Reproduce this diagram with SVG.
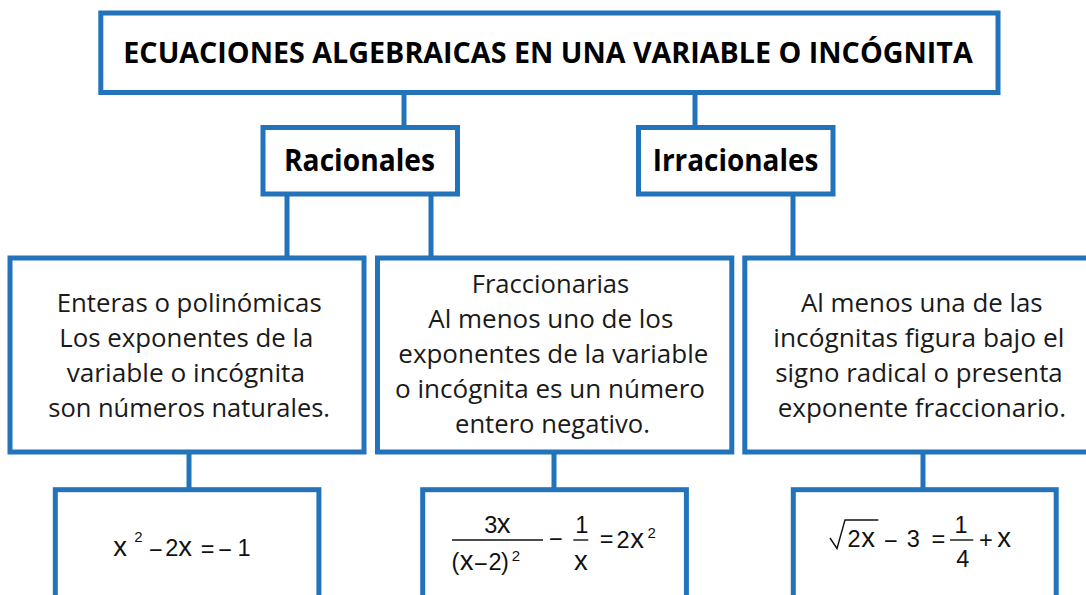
<svg xmlns="http://www.w3.org/2000/svg" width="1086" height="595" viewBox="0 0 1086 595">
<style>
.box{fill:#ffffff;stroke:#2373ba;stroke-width:5}
.con{stroke:#2373ba;stroke-width:5;fill:none}
.h{font-family:"Open Sans","Noto Sans","Liberation Sans",sans-serif;font-weight:bold;fill:#000}
.t{font-family:"Open Sans","Noto Sans","Liberation Sans",sans-serif;font-size:25.5px;fill:#1a1a1a}
.m{font-family:"Liberation Sans",Arial,sans-serif;font-size:23.5px;fill:#111111;text-anchor:middle}
.mx{font-size:27.5px}
.ms{font-size:15px}
.bar{stroke:#111111;stroke-width:1.4;fill:none}
</style>
<rect width="1086" height="595" fill="#ffffff"/>
<g id="connectors">
<line class="con" x1="404" y1="92" x2="404" y2="128"/>
<line class="con" x1="695" y1="92" x2="695" y2="128"/>
<line class="con" x1="287" y1="194" x2="287" y2="258"/>
<line class="con" x1="431" y1="194" x2="431" y2="258"/>
<line class="con" x1="793" y1="194" x2="793" y2="258"/>
<line class="con" x1="189" y1="452" x2="189" y2="490"/>
<line class="con" x1="554" y1="452" x2="554" y2="490"/>
<line class="con" x1="923" y1="452" x2="923" y2="490"/>
</g>
<g id="title">
<rect class="box" x="100.8" y="13" width="897.2" height="79.5"/>
<text class="h" x="123.3" y="63.3" font-size="28.5" textLength="849.4" lengthAdjust="spacingAndGlyphs">ECUACIONES ALGEBRAICAS EN UNA VARIABLE O INCÓGNITA</text>
</g>
<g id="racionales">
<rect class="box" x="263" y="127.5" width="194.5" height="66.5"/>
<text class="h" x="284" y="170.7" font-size="30" textLength="151" lengthAdjust="spacingAndGlyphs">Racionales</text>
</g>
<g id="irracionales">
<rect class="box" x="638.5" y="127.5" width="194.5" height="66.5"/>
<text class="h" x="652.7" y="170.7" font-size="30" textLength="165.6" lengthAdjust="spacingAndGlyphs">Irracionales</text>
</g>
<g id="enteras">
<rect class="box" x="10" y="258" width="354" height="194"/>
<text class="t" x="56.7" y="311.7" textLength="265" lengthAdjust="spacingAndGlyphs">Enteras o polinómicas</text>
<text class="t" x="59.3" y="346.7" textLength="254" lengthAdjust="spacingAndGlyphs">Los exponentes de la</text>
<text class="t" x="66.7" y="381.7" textLength="238.3" lengthAdjust="spacingAndGlyphs">variable o incógnita</text>
<text class="t" x="48.3" y="416.7" textLength="281.7" lengthAdjust="spacingAndGlyphs">son números naturales.</text>
</g>
<g id="fraccionarias">
<rect class="box" x="377.5" y="258" width="354.3" height="194"/>
<text class="t" x="471.7" y="292.7" textLength="157.6" lengthAdjust="spacingAndGlyphs">Fraccionarias</text>
<text class="t" x="428.3" y="328.3" textLength="245" lengthAdjust="spacingAndGlyphs">Al menos uno de los</text>
<text class="t" x="398.3" y="363.3" textLength="310" lengthAdjust="spacingAndGlyphs">exponentes de la variable</text>
<text class="t" x="395" y="398.3" textLength="310" lengthAdjust="spacingAndGlyphs">o incógnita es un número</text>
<text class="t" x="455" y="433.3" textLength="195" lengthAdjust="spacingAndGlyphs">entero negativo.</text>
</g>
<g id="radical-desc">
<rect class="box" x="744.8" y="258" width="360" height="194"/>
<text class="t" x="801" y="311.7" textLength="241.7" lengthAdjust="spacingAndGlyphs">Al menos una de las</text>
<text class="t" x="773.3" y="346.7" textLength="291" lengthAdjust="spacingAndGlyphs">incógnitas figura bajo el</text>
<text class="t" x="775.3" y="381.7" textLength="287.4" lengthAdjust="spacingAndGlyphs">signo radical o presenta</text>
<text class="t" x="777.7" y="416.7" textLength="288.3" lengthAdjust="spacingAndGlyphs">exponente fraccionario.</text>
</g>
<g id="ejemplo-entera">
<rect class="box" x="55.3" y="489.7" width="263.6" height="130"/>
<text class="m mx" x="120" y="556">x</text>
<text class="m ms" x="138.3" y="541.7">2</text>
<text class="m" x="155.8" y="558">−</text>
<text class="m" x="171.7" y="556">2</text>
<text class="m mx" x="185" y="556">x</text>
<text class="m" x="207.5" y="557">=</text>
<text class="m" x="225" y="558">−</text>
<text class="m" x="244" y="556">1</text>
</g>
<g id="ejemplo-fraccionaria">
<rect class="box" x="422.7" y="489.7" width="263.7" height="130"/>
<text class="m" x="490.7" y="533.3">3</text>
<text class="m mx" x="503.5" y="533.3">x</text>
<line class="bar" x1="452" y1="540" x2="543" y2="540"/>
<text class="m" x="455.5" y="570">(</text>
<text class="m mx" x="466.7" y="570">x</text>
<text class="m" x="480.8" y="572">−</text>
<text class="m" x="495" y="570">2</text>
<text class="m" x="505" y="570">)</text>
<text class="m ms" x="515.8" y="561">2</text>
<text class="m" x="555.8" y="546.5">−</text>
<text class="m" x="581.7" y="533.3">1</text>
<line class="bar" x1="573.3" y1="540" x2="588.3" y2="540"/>
<text class="m mx" x="580.8" y="570">x</text>
<text class="m" x="606.7" y="546.5">=</text>
<text class="m" x="623" y="547.5">2</text>
<text class="m mx" x="637" y="547.5">x</text>
<text class="m ms" x="651.7" y="538.3">2</text>
</g>
<g id="ejemplo-irracional">
<rect class="box" x="793.3" y="489.7" width="262.9" height="130"/>
<polyline class="bar" points="830,538 837,548.5 845,520 878.3,520"/>
<text class="m" x="854" y="546.7">2</text>
<text class="m mx" x="868" y="546.7">x</text>
<text class="m" x="890.8" y="548.5">−</text>
<text class="m" x="913.3" y="546.7">3</text>
<text class="m" x="938.3" y="546.5">=</text>
<text class="m" x="961" y="533.3">1</text>
<line class="bar" x1="950" y1="540" x2="973.3" y2="540"/>
<text class="m" x="962.7" y="566.7">4</text>
<text class="m" x="985.8" y="548">+</text>
<text class="m mx" x="1004" y="546.7">x</text>
</g>
</svg>
